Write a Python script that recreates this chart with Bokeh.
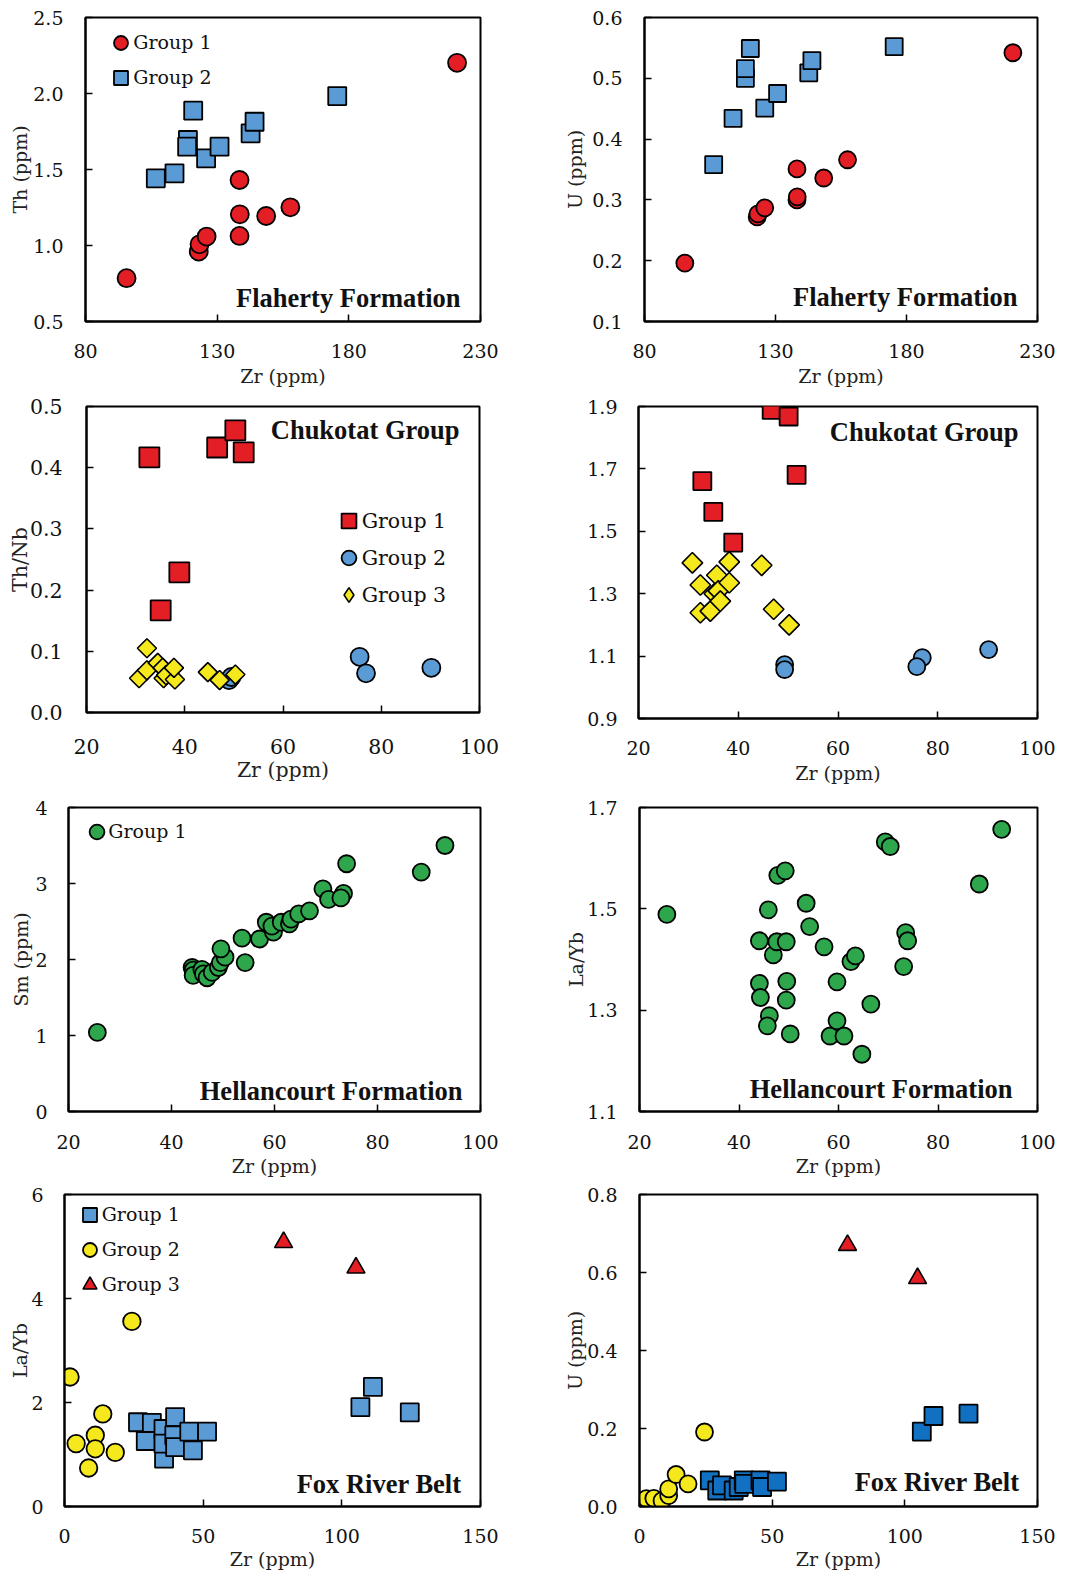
import math
from bokeh.plotting import figure
from bokeh.models import Range1d, FixedTicker, PrintfTickFormatter, Legend, LegendItem, Label
from bokeh.layouts import row, column
from bokeh.embed import file_html
from bokeh.resources import INLINE

# ---------------- data ----------------
# Panel 1/2: Flaherty Formation
fl_g1_zr_th = [95.6, 123.0, 123.3, 126.0, 138.5, 138.6, 138.5, 148.6, 157.8, 221.1]
fl_g1_th = [0.785, 0.96, 1.008, 1.059, 1.431, 1.205, 1.063, 1.194, 1.251, 2.202]
fl_g2_zr_th = [106.7, 113.8, 118.9, 118.6, 120.9, 125.8, 130.9, 142.7, 144.2, 175.6]
fl_g2_th = [1.442, 1.475, 1.694, 1.650, 1.887, 1.573, 1.650, 1.738, 1.814, 1.983]

fl_g1_zr_u = [95.4, 123.0, 123.3, 125.9, 138.2, 138.3, 138.2, 148.4, 157.5, 220.6]
fl_g1_u = [0.196, 0.272, 0.277, 0.287, 0.300, 0.305, 0.351, 0.336, 0.366, 0.542]
fl_g2_zr_u = [106.4, 113.8, 118.5, 118.5, 120.4, 125.9, 130.8, 142.7, 143.9, 175.3]
fl_g2_u = [0.358, 0.434, 0.500, 0.516, 0.549, 0.451, 0.475, 0.509, 0.529, 0.552]

# Panel 3/4: Chukotat Group
ch_g1_zr_a = [32.8, 46.6, 50.3, 52.0, 38.9, 35.1]
ch_g1_thnb = [0.417, 0.433, 0.461, 0.425, 0.229, 0.167]
ch_g2_zr_a = [49.0, 49.5, 75.6, 76.9, 90.2]
ch_g2_thnb = [0.053, 0.058, 0.091, 0.064, 0.073]
ch_g3_zr_a = [32.3, 30.7, 32.3, 34.5, 35.5, 35.7, 36.2, 38.0, 37.8, 44.7, 47.1, 50.3]
ch_g3_thnb = [0.105, 0.056, 0.069, 0.081, 0.073, 0.056, 0.061, 0.054, 0.073, 0.066, 0.053, 0.062]

ch_g1_zr_b = [46.7, 50.1, 51.7, 32.8, 35.0, 39.0]
ch_g1_smti = [1.889, 1.868, 1.681, 1.661, 1.562, 1.464]
ch_g2_zr_b = [49.3, 49.3, 76.9, 75.8, 90.2]
ch_g2_smti = [1.073, 1.057, 1.095, 1.066, 1.121]
ch_g3_zr_b = [30.8, 32.4, 32.4, 34.4, 35.2, 35.7, 36.0, 36.4, 38.2, 38.2, 44.7, 47.1, 50.2]
ch_g3_smti = [1.399, 1.328, 1.239, 1.244, 1.300, 1.359, 1.309, 1.276, 1.335, 1.402, 1.391, 1.250, 1.200]

# Panel 5/6: Hellancourt Formation
he_zr_sm = [25.6, 44.0, 44.2, 44.2, 45.9, 46.2, 46.9, 47.9, 49.1, 49.5, 50.4, 49.6, 53.7, 54.3,
            57.1, 58.4, 59.8, 59.5, 61.3, 62.9, 63.2, 64.7, 66.8, 69.4, 70.5, 73.4, 72.9, 74.0, 88.5, 93.1]
he_sm = [1.04, 1.895, 1.86, 1.79, 1.87, 1.81, 1.76, 1.83, 1.895, 1.96, 2.03, 2.14, 2.28, 1.96,
         2.27, 2.49, 2.36, 2.44, 2.49, 2.47, 2.53, 2.60, 2.64, 2.93, 2.79, 2.87, 2.81, 3.26, 3.15, 3.50]
he_zr_la = [25.5, 44.1, 44.1, 44.3, 45.9, 46.1, 45.7, 46.9, 47.6, 47.8, 49.3, 49.5, 49.6, 49.5, 50.3,
            53.5, 54.2, 57.1, 59.7, 58.3, 59.7, 61.1, 62.5, 63.4, 64.7, 66.5, 69.4, 70.4, 73.1, 73.5, 73.9, 88.3, 92.8]
he_layb = [1.489, 1.437, 1.353, 1.325, 1.498, 1.289, 1.269, 1.409, 1.435, 1.566, 1.575, 1.435, 1.357, 1.320, 1.253,
           1.511, 1.465, 1.425, 1.356, 1.249, 1.279, 1.249, 1.396, 1.407, 1.213, 1.312, 1.632, 1.623, 1.386, 1.453, 1.437, 1.549, 1.657]

# Panel 7/8: Fox River Belt
fr_g1_zr_la = [26.5, 31.5, 29.3, 35.7, 35.9, 35.7, 39.9, 39.6, 39.9, 45.0, 46.3, 51.4, 106.7, 111.2, 124.5]
fr_g1_layb = [1.62, 1.61, 1.26, 1.49, 0.92, 1.21, 1.72, 1.37, 1.14, 1.44, 1.08, 1.44, 1.91, 2.30, 1.81]
fr_g2_zr_la = [2.0, 4.2, 8.7, 11.1, 11.1, 13.8, 18.3, 24.3]
fr_g2_layb = [2.49, 1.21, 0.74, 1.37, 1.11, 1.78, 1.04, 3.56]
fr_g3_zr_la = [79.0, 105.1]
fr_g3_layb = [5.08, 4.59]

fr_g1_zr_u = [26.5, 29.3, 31.1, 35.5, 37.4, 39.3, 39.5, 45.6, 46.2, 51.8, 106.4, 110.8, 124.0]
fr_g1_u = [0.067, 0.041, 0.054, 0.041, 0.050, 0.067, 0.058, 0.067, 0.050, 0.064, 0.192, 0.232, 0.238]
fr_g2_zr_u = [2.6, 5.4, 8.5, 11.0, 11.0, 13.8, 18.3, 24.5]
fr_g2_u = [0.020, 0.021, 0.015, 0.028, 0.045, 0.082, 0.058, 0.191]
fr_g3_zr_u = [78.4, 104.8]
fr_g3_u = [0.670, 0.585]

# ---------------- styling ----------------
SERIF = "DejaVu Serif"
BOLD = "Liberation Serif"
RED = "#E41E25"
BLUE = "#5B9BD5"
DBLUE = "#1170C1"
YEL = "#F5E81C"
GRN = "#2EA64B"
TXT = "#111111"


def make_fig(cfg):
    xr, yr = cfg["xr"], cfg["yr"]
    p = figure(frame_width=cfg["fw"], frame_height=cfg["fh"],
               min_border_left=cfg["bl"], min_border_top=cfg["bt"],
               min_border_bottom=cfg["bb"], min_border_right=cfg["br"],
               x_range=Range1d(*xr), y_range=Range1d(*yr),
               output_backend="svg", toolbar_location=None, tools="")
    p.grid.visible = False
    p.outline_line_color = "black"
    p.outline_line_width = 2
    p.background_fill_color = "white"
    p.border_fill_color = "white"
    fs = "%spx" % cfg.get("fs", 19)
    specs = [
        (p.xaxis[0], cfg["xt"], cfg["xfmt"], cfg["xst"], cfg["xlst"], cfg["xlab"]),
        (p.yaxis[0], cfg["yt"], cfg["yfmt"], cfg["yst"], cfg["ylst"], cfg["ylab"]),
    ]
    for ax, ticks, fmt, st, lst, lab in specs:
        ax.ticker = FixedTicker(ticks=ticks)
        ax.formatter = PrintfTickFormatter(format=fmt)
        ax.major_tick_in = 7
        ax.major_tick_out = 0
        ax.minor_tick_line_color = None
        ax.major_tick_line_width = 1.5
        ax.major_tick_line_color = "black"
        ax.axis_line_width = 2
        ax.axis_line_color = "black"
        ax.major_label_text_font = SERIF
        ax.major_label_text_font_size = fs
        ax.major_label_text_color = TXT
        ax.major_label_standoff = st
        if lab:
            ax.axis_label = lab
        ax.axis_label_text_font = SERIF
        ax.axis_label_text_font_size = fs
        ax.axis_label_text_font_style = "normal"
        ax.axis_label_text_color = "#222222"
        ax.axis_label_standoff = lst
    return p


def sx2x(cfg, dx):
    xr = cfg["xr"]
    return xr[0] + dx * (xr[1] - xr[0]) / cfg["fw"]


def sy2y(cfg, dy):
    yr = cfg["yr"]
    return yr[0] + dy * (yr[1] - yr[0]) / cfg["fh"]


def add_title(p, cfg, text, right_in, base_px, from_top=False):
    x = sx2x(cfg, cfg["fw"] - right_in)
    y = sy2y(cfg, cfg["fh"] - base_px) if from_top else sy2y(cfg, base_px)
    p.add_layout(Label(x=x, y=y, text=text, text_align="right", text_baseline="alphabetic",
                       text_font=BOLD, text_font_style="bold", text_font_size="26.5px",
                       text_color=TXT))


def add_legend(p, cfg, renderers, labels, cx, cy, pitch, H, text_dx, fs=19):
    """cx, cy: centre of first key, px from frame top-left; pitch: px between rows."""
    n = len(labels)
    spacing = max(0, pitch - H)
    height = n * H + (n - 1) * spacing
    vy = cfg["fh"] - (cy - H / 2.0) - height
    common_kw = dict(orientation="vertical", padding=0, margin=0, background_fill_alpha=0,
                     border_line_alpha=0, label_text_font=SERIF, label_text_font_size="%spx" % fs,
                     label_text_color=TXT, glyph_height=H, spacing=spacing, label_standoff=0)
    keys = Legend(items=[LegendItem(label=" ", renderers=[r]) for r in renderers],
                  location=(cx - H / 2.0, vy), glyph_width=H, **common_kw)
    dummy = p.scatter(x=[], y=[], marker="circle", size=1, fill_alpha=0, line_alpha=0)
    texts = Legend(items=[LegendItem(label=l, renderers=[dummy]) for l in labels],
                   location=(cx + text_dx - 1, vy), glyph_width=1, **common_kw)
    p.add_layout(keys)
    p.add_layout(texts)


def sc(p, x, y, marker, color, size, angle=0.0, lw=1.8):
    return p.scatter(x, y, marker=marker, size=size, angle=angle, fill_color=color,
                     line_color="black", line_width=lw)


# ---------------- panel 1 ----------------
c1 = dict(xr=(80, 230), yr=(0.5, 2.5), xt=[80, 130, 180, 230], yt=[0.5, 1.0, 1.5, 2.0, 2.5],
          xfmt="%d", yfmt="%.1f", fw=395, fh=304, bl=85, bt=17, bb=68, br=30,
          xlab="Zr (ppm)", ylab="Th (ppm)", xst=22, xlst=4, yst=22, ylst=-1)
p1 = make_fig(c1)
r1a = sc(p1, fl_g1_zr_th, fl_g1_th, "circle", RED, 18)
r1b = sc(p1, fl_g2_zr_th, fl_g2_th, "square", BLUE, 18)
add_legend(p1, c1, [r1a, r1b], ["Group 1", "Group 2"], 35.7, 25.3, 35, 35, 12.6)
add_title(p1, c1, "Flaherty Formation", 20, 24)

# ---------------- panel 2 ----------------
c2 = dict(xr=(80, 230), yr=(0.1, 0.6), xt=[80, 130, 180, 230], yt=[0.1, 0.2, 0.3, 0.4, 0.5, 0.6],
          xfmt="%d", yfmt="%.1f", fw=393, fh=304, bl=134, bt=17, bb=68, br=30,
          xlab="Zr (ppm)", ylab="U (ppm)", xst=22, xlst=4, yst=22, ylst=3)
p2 = make_fig(c2)
sc(p2, fl_g1_zr_u, fl_g1_u, "circle", RED, 17)
sc(p2, fl_g2_zr_u, fl_g2_u, "square", BLUE, 17)
add_title(p2, c2, "Flaherty Formation", 20, 25)

# ---------------- panel 3 ----------------
c3 = dict(xr=(20, 100), yr=(0.0, 0.5), xt=[20, 40, 60, 80, 100], yt=[0.0, 0.1, 0.2, 0.3, 0.4, 0.5],
          xfmt="%d", yfmt="%.1f", fw=393, fh=306, bl=86, bt=17, bb=73, br=31,
          xlab="Zr (ppm)", ylab="Th/Nb", xst=26, xlst=1, yst=24, ylst=-5, fs=20.5)
p3 = make_fig(c3)
r3a = sc(p3, ch_g1_zr_a, ch_g1_thnb, "square", RED, 20)
r3b = sc(p3, ch_g2_zr_a, ch_g2_thnb, "circle", BLUE, 18)
# Group 3: a small diamond layer (used as the legend key) covered by rotated squares
key3 = sc(p3, ch_g3_zr_a, ch_g3_thnb, "diamond", YEL, 11, lw=1.6)
r3c = sc(p3, ch_g3_zr_a, ch_g3_thnb, "square", YEL, 13.5, angle=math.pi / 4, lw=1.6)
add_legend(p3, c3, [r3a, r3b, key3], ["Group 1", "Group 2", "Group 3"], 262.3, 114.7, 37, 37, 13.4, fs=20.5)
add_title(p3, c3, "Chukotat Group", 20, 23, from_top=True)

# ---------------- panel 4 ----------------
c4 = dict(xr=(20, 100), yr=(0.9, 1.9), xt=[20, 40, 60, 80, 100], yt=[0.9, 1.1, 1.3, 1.5, 1.7, 1.9],
          xfmt="%d", yfmt="%.1f", fw=399, fh=312, bl=128, bt=15, bb=69, br=30,
          xlab="Zr (ppm)", ylab=None, xst=22, xlst=4, yst=21, ylst=0)
p4 = make_fig(c4)
sc(p4, ch_g1_zr_b, ch_g1_smti, "square", RED, 18)
sc(p4, ch_g2_zr_b, ch_g2_smti, "circle", BLUE, 17)
sc(p4, ch_g3_zr_b, ch_g3_smti, "square", YEL, 14.5, angle=math.pi / 4, lw=1.6)
add_title(p4, c4, "Chukotat Group", 19, 25, from_top=True)
# y-axis label Sm_N/Ti_N built from pieces (rotated)
main_dx = -64.5     # centre line of main text, px from frame left
sub_dx = -58.5      # centre line of subscripts
pos = 114.3         # px above frame bottom where the label starts
pieces = [("Sm", 19, main_dx, 29.0), ("N", 9.5, sub_dx, 7.2), ("/Ti", 19, main_dx, 24.5), ("N", 9.5, sub_dx, 7.2)]
for txt, fsz, dx, w in pieces:
    p4.add_layout(Label(x=sx2x(c4, dx), y=sy2y(c4, pos), text=txt, angle=math.pi / 2,
                        text_align="left", text_baseline="middle", text_font=SERIF,
                        text_font_size="%spx" % fsz, text_color="#222222"))
    pos += w

# ---------------- panel 5 ----------------
c5 = dict(xr=(20, 100), yr=(0, 4), xt=[20, 40, 60, 80, 100], yt=[0, 1, 2, 3, 4],
          xfmt="%d", yfmt="%d", fw=412, fh=304, bl=68, bt=22, bb=68, br=30,
          xlab="Zr (ppm)", ylab="Sm (ppm)", xst=23, xlst=3, yst=21, ylst=0)
p5 = make_fig(c5)
r5 = sc(p5, he_zr_sm, he_sm, "circle", GRN, 17)
add_legend(p5, c5, [r5], ["Group 1"], 28.7, 24.3, 37, 37, 11.6)
add_title(p5, c5, "Hellancourt Formation", 18, 21)

# ---------------- panel 6 ----------------
c6 = dict(xr=(20, 100), yr=(1.1, 1.7), xt=[20, 40, 60, 80, 100], yt=[1.1, 1.3, 1.5, 1.7],
          xfmt="%d", yfmt="%.1f", fw=398, fh=304, bl=129, bt=22, bb=68, br=30,
          xlab="Zr (ppm)", ylab="La/Yb", xst=23, xlst=3, yst=22, ylst=-3)
p6 = make_fig(c6)
sc(p6, he_zr_la, he_layb, "circle", GRN, 17)
add_title(p6, c6, "Hellancourt Formation", 25, 23)

# ---------------- panel 7 ----------------
c7 = dict(xr=(0, 150), yr=(0, 6), xt=[0, 50, 100, 150], yt=[0, 2, 4, 6],
          xfmt="%d", yfmt="%d", fw=416, fh=312, bl=64, bt=15, bb=66, br=30,
          xlab="Zr (ppm)", ylab="La/Yb", xst=22, xlst=2, yst=21, ylst=-3)
p7 = make_fig(c7)
r7a = sc(p7, fr_g1_zr_la, fr_g1_layb, "square", BLUE, 18)
r7b = sc(p7, fr_g2_zr_la, fr_g2_layb, "circle", YEL, 17.5)
r7c = sc(p7, fr_g3_zr_la, fr_g3_layb, "triangle", RED, 18, lw=1.6)
add_legend(p7, c7, [r7a, r7b, r7c], ["Group 1", "Group 2", "Group 3"], 25.8, 20.2, 35, 35, 11.9)
add_title(p7, c7, "Fox River Belt", 19, 23)

# ---------------- panel 8 ----------------
c8 = dict(xr=(0, 150), yr=(0, 0.8), xt=[0, 50, 100, 150], yt=[0.0, 0.2, 0.4, 0.6, 0.8],
          xfmt="%d", yfmt="%.1f", fw=398, fh=312, bl=129, bt=15, bb=66, br=30,
          xlab="Zr (ppm)", ylab="U (ppm)", xst=22, xlst=2, yst=22, ylst=-2)
p8 = make_fig(c8)
sc(p8, fr_g2_zr_u, fr_g2_u, "circle", YEL, 17)
sc(p8, fr_g1_zr_u, fr_g1_u, "square", DBLUE, 18)
sc(p8, fr_g3_zr_u, fr_g3_u, "triangle", RED, 18, lw=1.6)
add_title(p8, c8, "Fox River Belt", 18, 25)

layout = column(row(p1, p2), row(p3, p4), row(p5, p6), row(p7, p8))
open("out.html", "w").write(file_html(layout, INLINE))
